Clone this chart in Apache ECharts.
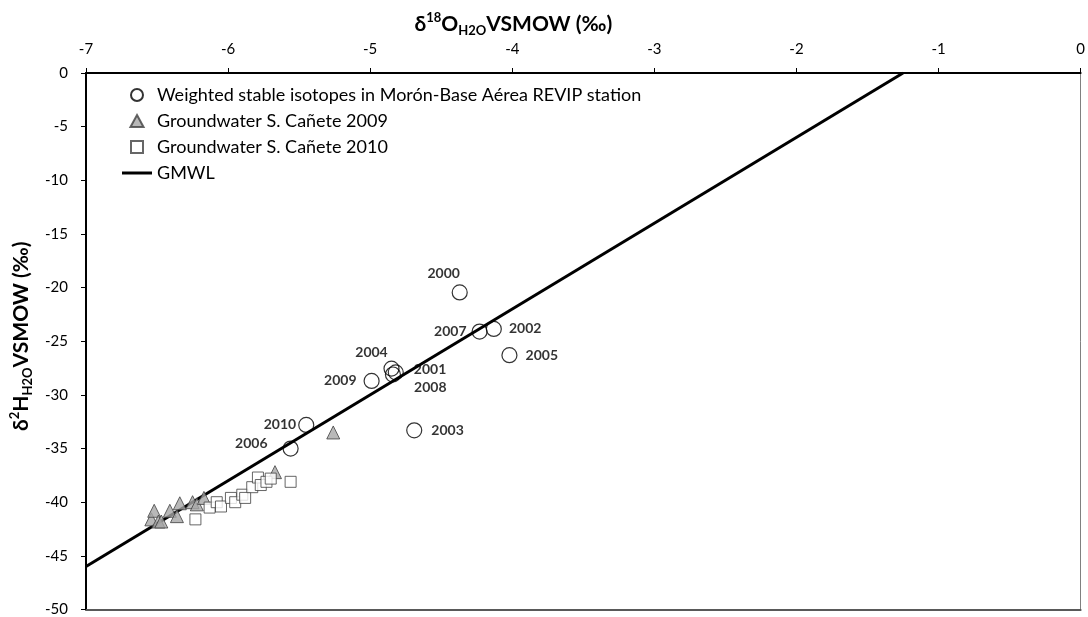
<!DOCTYPE html>
<html>
<head>
<meta charset="utf-8">
<script src="https://cdn.jsdelivr.net/npm/echarts@6/dist/echarts.min.js"></script>
<style>
  html, body { margin: 0; padding: 0; background: #fff; }
  #chart { width: 1088px; height: 617px; }
</style>
</head>
<body>
<div id="chart"></div>
<script>
// weighted precipitation, Morón-Base Aérea REVIP station (d18O, d2H, year)
var rainYears = ['2000', '2007', '2002', '2005', '2004', '2001', '2008', '2009', '2010', '2006', '2003'];
var rainO18 = [-4.37, -4.23, -4.13, -4.02, -4.85, -4.82, -4.84, -4.99, -5.45, -5.56, -4.69];
var rainH2 = [-20.45, -24.1, -23.85, -26.3, -27.55, -27.9, -28.1, -28.7, -32.8, -35.0, -33.3];

// groundwater S. Cañete 2009
var gw2009O18 = [-6.54, -6.52, -6.49, -6.47, -6.41, -6.36, -6.34, -6.25, -6.22, -6.17, -5.67, -5.26];
var gw2009H2 = [-41.6, -40.8, -41.8, -41.8, -40.8, -41.3, -40.1, -40.0, -40.2, -39.6, -37.2, -33.5];

// groundwater S. Cañete 2010
var gw2010O18 = [-6.23, -6.13, -6.08, -6.05, -5.98, -5.95, -5.9, -5.88, -5.83, -5.79, -5.77, -5.73, -5.70, -5.56];
var gw2010H2 = [-41.6, -40.5, -40.0, -40.4, -39.6, -40.0, -39.3, -39.6, -38.6, -37.7, -38.4, -38.1, -37.8, -38.1];

// GMWL end points
var gmwlO18 = [-7, -1.25];
var gmwlH2 = [-46, 0];

var FONT = 'Lato';

// where each year label sits round its point
var labelPos = {
  '2000': { position: 'top', distance: 4, offset: [-16, 0] },
  '2007': { position: 'left', distance: 5 },
  '2002': { position: 'right', distance: 7 },
  '2005': { position: 'right', distance: 8 },
  '2004': { position: 'top', distance: 1, offset: [-20, 0] },
  '2001': { position: 'right', distance: 10, offset: [0, -3] },
  '2008': { position: 'right', distance: 13, offset: [0, 13] },
  '2009': { position: 'left', distance: 7 },
  '2010': { position: 'left', distance: 2 },
  '2006': { position: 'left', distance: 15, offset: [0, -5] },
  '2003': { position: 'right', distance: 9 }
};

function pairs(xs, ys) {
  var out = [];
  for (var i = 0; i < xs.length; i++) out.push([xs[i], ys[i]]);
  return out;
}

var rainData = rainYears.map(function (y, i) {
  return { name: y, value: [rainO18[i], rainH2[i]], label: labelPos[y] };
});

var names = [
  'Weighted stable isotopes in Morón-Base Aérea REVIP station',
  'Groundwater S. Cañete 2009',
  'Groundwater S. Cañete 2010',
  'GMWL'
];

var nameRich = {
  b: { fontFamily: FONT, fontSize: 21, fontWeight: 'bold', color: '#000', lineHeight: 26 },
  sup: { fontFamily: FONT, fontSize: 13, fontWeight: 'bold', color: '#000', verticalAlign: 'top', lineHeight: 26, padding: [0, 0, 9, 0] },
  sub: { fontFamily: FONT, fontSize: 13, fontWeight: 'bold', color: '#000', verticalAlign: 'bottom', lineHeight: 26, padding: [9, 0, 0, 0] }
};

var chart = echarts.init(document.getElementById('chart'));
chart.setOption({
  animation: false,
  textStyle: { fontFamily: FONT },
  grid: { left: 86, right: 2, top: 73, bottom: 5, containLabel: false },
  legend: {
    orient: 'vertical',
    left: 122,
    top: 86,
    padding: 0,
    itemWidth: 30,
    itemHeight: 12,
    itemGap: 8,
    symbolKeepAspect: true,
    textStyle: { fontFamily: FONT, fontSize: 18, lineHeight: 18, color: '#000' },
    data: [
      { name: names[0], icon: 'circle' },
      { name: names[1], icon: 'path://M6,0 L12,11 L0,11 Z' },
      { name: names[2], icon: 'path://M0,0 L10,0 L10,10 L0,10 Z' },
      { name: names[3], icon: 'path://M0,0 L40,0 L40,4 L0,4 Z' }
    ]
  },
  xAxis: [{
    type: 'value',
    position: 'top',
    min: -7,
    max: 0,
    interval: 1,
    name: '{b|δ}{sup|18}{b|O}{sub|H2O}{b|VSMOW (‰)}',
    nameLocation: 'middle',
    nameGap: 36,
    nameTextStyle: { padding: [0, 140, 0, 0], rich: nameRich },
    axisLine: { lineStyle: { color: '#000', width: 2 } },
    axisTick: { length: 5, lineStyle: { color: '#000', width: 1 } },
    axisLabel: { fontFamily: FONT, fontSize: 15, color: '#000', margin: 16 },
    splitLine: { show: false }
  }, {
    type: 'value',
    position: 'bottom',
    min: -7,
    max: 0,
    axisLine: { onZero: false, lineStyle: { color: '#595959', width: 2 } },
    axisTick: { show: false },
    axisLabel: { show: false },
    splitLine: { show: false }
  }],
  yAxis: [{
    type: 'value',
    min: -50,
    max: 0,
    interval: 5,
    name: '{b|δ}{sup|2}{b|H}{sub|H2O}{b|VSMOW (‰)}',
    nameLocation: 'middle',
    nameGap: 43,
    nameTextStyle: { padding: [0, 0, 0, 10], rich: nameRich },
    axisLine: { onZero: false, lineStyle: { color: '#000', width: 2 } },
    axisTick: { show: true, length: 5, lineStyle: { color: '#000', width: 1 } },
    axisLabel: { fontFamily: FONT, fontSize: 15, color: '#000', margin: 18 },
    splitLine: { show: false }
  }, {
    type: 'value',
    position: 'right',
    min: -50,
    max: 0,
    axisLine: { show: true, onZero: false, lineStyle: { color: '#808080', width: 1 } },
    axisTick: { show: false },
    axisLabel: { show: false },
    splitLine: { show: false }
  }],
  series: [{
    name: names[3],
    type: 'line',
    data: pairs(gmwlO18, gmwlH2),
    symbol: 'none',
    lineStyle: { color: '#000', width: 3 },
    itemStyle: { color: '#000' },
    z: 1
  }, {
    name: names[1],
    type: 'scatter',
    data: pairs(gw2009O18, gw2009H2),
    symbol: 'triangle',
    symbolSize: 13,
    itemStyle: { color: '#a6a6a6', borderColor: '#404040', borderWidth: 1 },
    z: 2
  }, {
    name: names[2],
    type: 'scatter',
    data: pairs(gw2010O18, gw2010H2),
    symbol: 'rect',
    symbolSize: 11,
    itemStyle: { color: '#fff', borderColor: '#404040', borderWidth: 1 },
    z: 3
  }, {
    name: names[0],
    type: 'scatter',
    data: rainData,
    symbol: 'circle',
    symbolSize: 15,
    itemStyle: { color: 'rgba(255,255,255,0)', borderColor: '#000', borderWidth: 1.2 },
    label: {
      show: true,
      formatter: '{b}',
      fontFamily: FONT,
      fontSize: 14,
      fontWeight: 'bold',
      color: '#000'
    },
    z: 4
  }]
});
</script>
</body>
</html>
